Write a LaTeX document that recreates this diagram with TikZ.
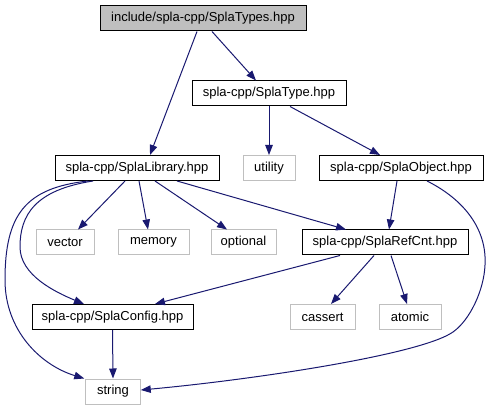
\documentclass[tikz,border=0pt]{standalone}
\usepackage{fontspec}
\setmainfont{Liberation Sans}
\usetikzlibrary{arrows.meta}
\definecolor{edgeblue}{HTML}{191970}
\definecolor{sysgray}{HTML}{BFBFBF}
\tikzset{
  base/.style={rectangle, inner sep=0pt, minimum height=25pt, line width=1pt,
    font=\fontsize{13}{15}\selectfont, text=black},
  box/.style={base, draw=black},
  sys/.style={base, draw=sysgray},
  topbox/.style={base, draw=black, fill=sysgray},
  edge/.style={draw=edgeblue, line width=1pt, -{Triangle[length=10pt,width=7.5pt]}, edgeblue},
}
\begin{document}
\begin{tikzpicture}[x=1pt, y=-1pt]
\useasboundingbox (0,0) rectangle (489,411);
\node[topbox, minimum width=206pt] (top) at (203,18.5) {include/spla-cpp/SplaTypes.hpp};
\node[box, minimum width=154pt] (type) at (269,93.5) {spla-cpp/SplaType.hpp};
\node[box, minimum width=164pt] (lib) at (137,168) {spla-cpp/SplaLibrary.hpp};
\node[sys, minimum width=52pt] (utility) at (269,168) {utility};
\node[box, minimum width=164pt] (obj) at (401,168) {spla-cpp/SplaObject.hpp};
\node[sys, minimum width=58pt] (vector) at (65,242.5) {vector};
\node[sys, minimum width=71pt] (memory) at (153.5,242.5) {memory};
\node[sys, minimum width=65pt] (optional) at (243.5,242.5) {optional};
\node[box, minimum width=166pt] (refcnt) at (385,242.5) {spla-cpp/SplaRefCnt.hpp};
\node[box, minimum width=161pt] (config) at (112.5,317) {spla-cpp/SplaConfig.hpp};
\node[sys, minimum width=65pt] (cassert) at (322.5,317) {cassert};
\node[sys, minimum width=62pt] (atomic) at (410,317) {atomic};
\node[sys, minimum width=54.5pt] (string) at (113,391.5) {string};

\draw[edge] ([xshift=-6pt]top.south) -- ([xshift=13pt]lib.north);
\draw[edge] ([xshift=9pt]top.south) -- ([xshift=-13pt]type.north);
\draw[edge] (type.south) -- (utility.north);
\draw[edge] ([xshift=21pt]type.south) -- ([xshift=-21pt]obj.north);
\draw[edge] ([xshift=-12pt]lib.south) -- ([xshift=13pt]vector.north);
\draw[edge] ([xshift=2pt]lib.south) -- ([xshift=-5.5pt]memory.north);
\draw[edge] ([xshift=18pt]lib.south) -- ([xshift=-16.5pt]optional.north);
\draw[edge] ([xshift=40pt]lib.south) -- ([xshift=-39pt]refcnt.north);
\draw[edge] ([xshift=-4pt]obj.south) -- ([xshift=4pt]refcnt.north);
\draw[edge] ([xshift=-45pt]refcnt.south) -- ([xshift=42.5pt]config.north);
\draw[edge] ([xshift=-11pt]refcnt.south) -- ([xshift=8.5pt]cassert.north);
\draw[edge] ([xshift=6pt]refcnt.south) -- ([xshift=-3pt]atomic.north);
\draw[edge] (config.south) -- (string.north);
\draw[edge] ([xshift=-44pt]lib.south) .. controls (35,190) and (20,215) .. (20,247)
  .. controls (20,275) and (55,292) .. ([xshift=-28.5pt]config.north);
\draw[edge] ([xshift=-49pt]lib.south) .. controls (25,188) and (5,215) .. (5,280)
  .. controls (5,330) and (40,365) .. ([xshift=-1pt]string.north west);
\draw[edge] ([xshift=26pt]obj.south) .. controls (465,200) and (487,230) .. (485,265)
  .. controls (484,290) and (470,320) .. (453,332)
  .. controls (420,355) and (250,380) .. ([yshift=1.5pt]string.east);
\end{tikzpicture}
\end{document}
